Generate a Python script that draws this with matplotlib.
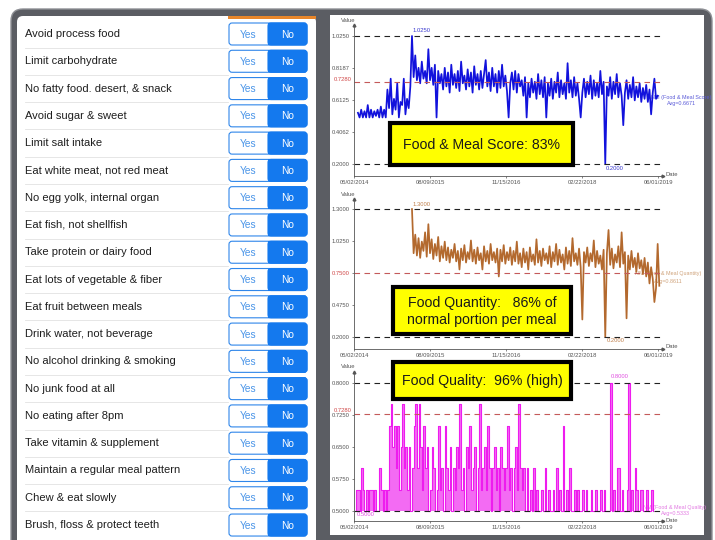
import matplotlib.pyplot as plt
from matplotlib.patches import Rectangle, FancyBboxPatch
import matplotlib.transforms as mtransforms
import pandas as pd

plt.rcParams['font.family'] = ['Liberation Sans', 'DejaVu Sans']

# Checklist items (left panel)
habit_labels = [
    "Avoid process food", "Limit carbohydrate", "No fatty food. desert, & snack",
    "Avoid sugar & sweet", "Limit salt intake", "Eat white meat, not red meat",
    "No egg yolk, internal organ", "Eat fish, not shellfish", "Take protein or dairy food",
    "Eat lots of vegetable & fiber", "Eat fruit between meals", "Drink water, not beverage",
    "No alcohol drinking & smoking", "No junk food at all", "No eating after 8pm",
    "Take vitamin & supplement", "Maintain a regular meal pattern", "Chew & eat slowly",
    "Brush, floss & protect teeth",
]

# Date axis ticks shared by all three charts
tick_dates = pd.to_datetime(["2014-05-02", "2015-08-09", "2016-11-15", "2018-02-22", "2019-06-01"])

# Food & Meal score (one value every 10 days)
score_start = "2014-05-26"
score_values = [
    0.53, 0.50, 0.55, 0.50, 0.54, 0.50, 0.58, 0.50, 0.55, 0.50, 0.54, 0.51, 0.55, 0.50, 0.57, 0.50, 0.55,
    0.50, 0.68, 0.56, 0.75, 0.52, 0.62, 0.55, 0.72, 0.50, 0.60, 0.58, 0.75, 0.52, 0.62, 0.56, 0.70,
    1.025,
    0.76, 0.90, 0.74, 0.82, 0.72, 0.86, 0.75, 0.80, 0.72, 0.94, 0.74, 0.82, 0.71, 0.84, 0.50, 0.80, 0.72,
    0.78, 0.68, 0.82, 0.70, 0.79, 0.66, 0.84, 0.71, 0.78, 0.69, 0.80, 0.67, 0.86, 0.72, 0.77, 0.68,
    0.81, 0.70, 0.79, 0.66, 0.83, 0.71, 0.78, 0.68, 0.80, 0.69, 0.78, 0.87, 0.70, 0.79, 0.67, 0.82,
    0.70, 0.78, 0.66, 0.80, 0.69, 0.84, 0.70, 0.77, 0.67, 0.50, 0.72, 0.79, 0.68, 0.80, 0.66, 0.78, 0.70,
    0.74, 0.64, 0.76, 0.50, 0.72, 0.63, 0.75, 0.66, 0.73, 0.62, 0.78, 0.65, 0.74, 0.63, 0.76, 0.50,
    0.72, 0.64, 0.75, 0.62, 0.73, 0.66, 0.79, 0.63, 0.74, 0.65, 0.72, 0.62, 0.85, 0.66, 0.74, 0.63,
    0.76, 0.64, 0.72, 0.62, 0.50, 0.66, 0.75, 0.63, 0.73, 0.65, 0.77, 0.62, 0.74, 0.64, 0.72, 0.63,
    0.80, 0.65, 0.73, 0.20, 0.70, 0.64, 0.76, 0.62, 0.73, 0.65, 0.78, 0.63, 0.72, 0.64, 0.45, 0.66,
    0.74, 0.62, 0.71, 0.63, 0.76, 0.61, 0.70, 0.63, 0.72, 0.60, 0.69, 0.62, 0.71, 0.60, 0.68, 0.52,
    0.66, 0.75, 0.62, 0.64,
]

# Food quantity (fraction of normal portion)
quantity_start = "2015-04-21"
quantity_values = [
    1.30, 0.92, 1.08, 0.90, 1.05, 0.88, 1.02, 0.94, 1.10, 0.89, 1.17, 0.92, 1.04, 0.87, 1.00, 0.90,
    1.06, 0.85, 0.98, 0.88, 1.02,
    0.86, 0.97, 0.84, 0.95, 0.88, 1.00, 0.85, 0.94, 0.78, 0.96, 0.86, 0.99, 0.84, 0.93, 0.87, 1.03,
    0.85, 0.95, 0.83, 0.97, 0.86, 0.92, 0.78, 0.98, 0.85, 0.94, 0.83, 1.00, 0.86, 0.93, 0.84, 0.96,
    0.72, 0.95, 0.85, 0.99, 0.83, 0.93, 0.86, 0.97,
    0.82, 0.94, 0.85, 1.02, 0.83, 0.92, 0.80, 0.96, 0.84, 0.93, 0.78, 0.97, 0.85, 0.91, 0.82, 1.04,
    0.84, 0.94, 0.81, 0.96, 0.86, 0.92, 0.83, 0.98, 0.80, 0.93, 0.85, 1.00, 0.82, 0.95, 0.84, 0.91,
    0.78, 0.97, 0.83, 0.94, 0.81, 1.05, 0.85, 0.92,
    0.82, 0.96, 0.80, 0.35, 0.93, 0.84, 0.97, 0.81, 0.92, 0.85, 1.03, 0.80, 0.94, 0.83, 0.90, 0.78,
    0.95, 0.20, 0.92, 1.12, 0.82, 0.96, 0.79, 0.91, 0.84, 0.98, 0.80, 1.10, 0.83, 0.93, 0.36, 0.90,
    0.78, 0.94, 0.80, 0.88, 0.76, 0.92, 0.79, 0.86, 0.74, 0.88, 0.72, 0.84, 0.66, 0.80, 0.70, 0.50,
    0.62, 1.00, 0.64,
]

# Food quality (stepped values)
quality_start = "2014-05-06"
quality_values = [
    0.50, 0.55, 0.55, 0.50, 0.60, 0.55, 0.50, 0.55, 0.50, 0.55, 0.55, 0.50, 0.55, 0.50, 0.50, 0.60,
    0.55, 0.50, 0.55, 0.50,
    0.55, 0.70, 0.75, 0.65, 0.70, 0.60, 0.70, 0.55, 0.65, 0.75, 0.60, 0.65, 0.55, 0.65, 0.50, 0.60,
    0.70, 0.75, 0.60, 0.75, 0.65, 0.55, 0.70, 0.60, 0.65, 0.50, 0.55, 0.65, 0.60, 0.50, 0.55, 0.70,
    0.55, 0.60, 0.50, 0.70, 0.60, 0.55, 0.65, 0.50, 0.60, 0.55, 0.65, 0.60, 0.75, 0.55, 0.60, 0.50,
    0.65, 0.60, 0.70, 0.55, 0.60, 0.65, 0.50, 0.60, 0.75, 0.55, 0.60, 0.65, 0.55, 0.70, 0.60, 0.50,
    0.60, 0.65, 0.55, 0.60, 0.50, 0.65, 0.60, 0.55, 0.60, 0.70, 0.55, 0.60, 0.50, 0.60, 0.65, 0.55,
    0.75, 0.60, 0.55, 0.60, 0.50, 0.60,
    0.50, 0.55, 0.50, 0.60, 0.50, 0.55, 0.50, 0.50, 0.55, 0.50, 0.60, 0.50, 0.55, 0.50, 0.50, 0.55,
    0.50, 0.60, 0.50, 0.55, 0.50, 0.70, 0.50, 0.55, 0.50, 0.60, 0.50, 0.50, 0.55, 0.50, 0.55, 0.50,
    0.50, 0.55, 0.50, 0.55, 0.50, 0.50, 0.55, 0.50, 0.50, 0.55, 0.50, 0.50, 0.55, 0.50, 0.55, 0.50,
    0.50, 0.50, 0.80, 0.50, 0.55, 0.50, 0.60, 0.60, 0.50, 0.55, 0.50, 0.50, 0.55, 0.80, 0.50, 0.55,
    0.50, 0.60, 0.55, 0.50, 0.55, 0.55, 0.50, 0.50, 0.55, 0.50, 0.50, 0.55, 0.50,
]

W, H = 715, 540
fig = plt.figure(figsize=(W / 100, H / 100), dpi=100)

# background in pixel coordinates
bg = fig.add_axes([0, 0, 1, 1])
bg.set_xlim(0, W)
bg.set_ylim(H, 0)
bg.axis('off')

bg.add_patch(FancyBboxPatch((11, 9), 701, 560, boxstyle='round,pad=0,rounding_size=12',
                            fc='#5b5d63', ec='#8e9095', lw=1))
bg.add_patch(FancyBboxPatch((17, 16), 299, 540, boxstyle='round,pad=0,rounding_size=6',
                            fc='white', ec='none'))
right_panel = Rectangle((330, 15), 374, 520, fc='white', ec='none')
bg.add_patch(right_panel)
bg.add_patch(Rectangle((228, 16), 88, 3, fc='#e8862a', ec='none'))

# checklist rows with Yes / No toggles
row_step = 27.28
for i, label in enumerate(habit_labels):
    yc = 34 + i * row_step
    bg.text(25, yc, label, fontsize=8, color='#1e1e1e', va='center', ha='left')
    if i < len(habit_labels) - 1:
        bg.plot([25, 228], [yc + row_step / 2, yc + row_step / 2], color='#e2e2e2', lw=0.6)
    bg.add_patch(FancyBboxPatch((229, yc - 11), 78, 22, boxstyle='round,pad=0,rounding_size=3',
                                fc='white', ec='#2f86ea', lw=0.8))
    bg.add_patch(FancyBboxPatch((268, yc - 11), 39, 22, boxstyle='round,pad=0,rounding_size=3',
                                fc='#1479ee', ec='#1479ee', lw=0.8))
    bg.add_patch(Rectangle((268, yc - 11), 10, 22, fc='#1479ee', ec='none'))
    bg.text(248.5, yc + 0.5, "Yes", fontsize=7.3, color='#4a95e8', ha='center', va='center')
    bg.text(287.5, yc + 0.5, "No", fontsize=7.3, color='white', ha='center', va='center')


def px_axes(left, top, right, bottom):
    ax = fig.add_axes([left / W, 1 - bottom / H, (right - left) / W, (bottom - top) / H])
    ax.set_facecolor('none')
    return ax


x_end = tick_dates[0] + pd.Timedelta(days=(663 - 354) * 464 / 76)
dash_end = tick_dates[0] + pd.Timedelta(days=(660 - 354) * 464 / 76)


def draw_chart(top, bottom, ylim, yticks, ref_value, dates, values, color, steps=False):
    ax = px_axes(354, top, 663, bottom)
    if steps:
        ax.fill_between(dates, ylim[0] + 0.0234, values, step='post', color=color,
                        alpha=0.65, lw=0)
        ax.plot(dates, values, color=color, lw=0.8, drawstyle='steps-post')
    else:
        ax.plot(dates, values, color=color, lw=1.25)
    ax.set_xlim(tick_dates[0], x_end)
    ax.set_ylim(*ylim)
    ax.hlines([yticks[0], yticks[-1]], tick_dates[0], dash_end, colors='#222222',
              linestyles=(0, (5, 4)), lw=0.8)
    ax.hlines(ref_value, tick_dates[0], dash_end, colors='#c45a5a',
              linestyles=(0, (5, 4)), lw=0.8)
    ax.set_yticks(yticks)
    ax.set_yticklabels([f"{v:.4f}" for v in yticks])
    ax.set_xticks(tick_dates)
    ax.set_xticklabels([d.strftime("%m/%d/%Y") for d in tick_dates])
    ax.tick_params(labelsize=4.2, length=1.5, width=0.5, colors='#555555', pad=1.5)
    for side in ['top', 'right']:
        ax.spines[side].set_visible(False)
    for side in ['left', 'bottom']:
        ax.spines[side].set_linewidth(0.6)
        ax.spines[side].set_color('#555555')
    ax.plot(0, 1, '^', color='#555555', ms=2, transform=ax.transAxes, clip_on=False)
    ax.plot(1, 0, '>', color='#555555', ms=2, transform=ax.transAxes, clip_on=False)
    # red reference label on the axis (the tick label itself if it sits on a tick)
    if ref_value in yticks:
        ax.get_yticklabels()[yticks.index(ref_value)].set_color('#d04848')
    else:
        lift = mtransforms.offset_copy(ax.get_yaxis_transform(), fig=fig, y=2.2, units='points')
        ax.text(-0.008, ref_value, f"{ref_value:.4f}", fontsize=4.2, color='#d04848',
                ha='right', va='center', transform=lift)
    return ax


score_dates = pd.date_range(score_start, periods=len(score_values), freq='10D')
quantity_dates = pd.date_range(quantity_start, periods=len(quantity_values), freq='10D')
quality_dates = pd.date_range(quality_start, periods=len(quality_values), freq='10D')

ax1 = draw_chart(25, 176, (0.1227, 1.0959), [0.2, 0.40625, 0.6125, 0.81875, 1.025], 0.728,
                 score_dates, score_values, '#1212dc')
ax2 = draw_chart(199, 349, (0.0961, 1.3866), [0.2, 0.475, 0.75, 1.025, 1.3], 0.75,
                 quantity_dates, quantity_values, '#b3692e')
ax3 = draw_chart(372, 521, (0.4766, 0.8258), [0.5, 0.575, 0.65, 0.725, 0.8], 0.728,
                 quality_dates, quality_values, '#ee1cee', steps=True)

# small axis titles and min / max notes
for y_val, y_date in [(21, 174), (195, 347), (367, 520)]:
    bg.text(348, y_val, "Value", fontsize=4.2, color='#555555', ha='center', va='center')
    bg.text(665, y_date, "Date", fontsize=4.2, color='#555555', ha='left', va='center')

bg.text(413, 31, "1.0250", fontsize=4.2, color='#3a3ad0', va='center')
bg.text(606, 168, "0.2000", fontsize=4.2, color='#3a3ad0', va='center')
bg.text(413, 204, "1.3000", fontsize=4.2, color='#c0804c', va='center')
bg.text(607, 341, "0.2000", fontsize=4.2, color='#c0804c', va='center')
bg.text(611, 376, "0.8000", fontsize=4.2, color='#e050e0', va='center')
bg.text(357, 515, "0.5000", fontsize=4.2, color='#e050e0', va='center')

# series names at the right end of each chart
series_notes = [
    (681, 97, 104, "NM (Food & Meal Score)", "Avg=0.6671", '#5a5ad8'),
    (668, 274, 281, "NM (Food & Meal Quantity)", "Avg=0.8611", '#cfa27a'),
    (675, 507, 513, "NM (Food & Meal Quality)", "Avg=0.5333", '#e27ae2'),
]
for xc, y1, y2, name, avg, col in series_notes:
    for yy, txt in [(y1, name), (y2, avg)]:
        t = bg.text(xc, yy, txt, fontsize=3.9, color=col, ha='center', va='center')
        t.set_clip_path(right_panel)

# yellow score boxes on top of everything
ov = fig.add_axes([0, 0, 1, 1], zorder=5)
ov.set_xlim(0, W)
ov.set_ylim(H, 0)
ov.axis('off')
ov.patch.set_alpha(0)

boxes = [
    (390, 123, 183, 42, "Food & Meal Score: 83%"),
    (393, 287, 178, 47, "Food Quantity:   86% of\nnormal portion per meal"),
    (393, 362, 178, 37, "Food Quality:  96% (high)"),
]
for bx, by, bw, bh, txt in boxes:
    ov.add_patch(Rectangle((bx, by), bw, bh, fc='#ffff00', ec='black', lw=3))
    ov.text(bx + bw / 2, by + bh / 2 + 1, txt, fontsize=10.2, color='#1a1a1a',
            ha='center', va='center', linespacing=1.25)

plt.savefig('out.png', dpi=100)
